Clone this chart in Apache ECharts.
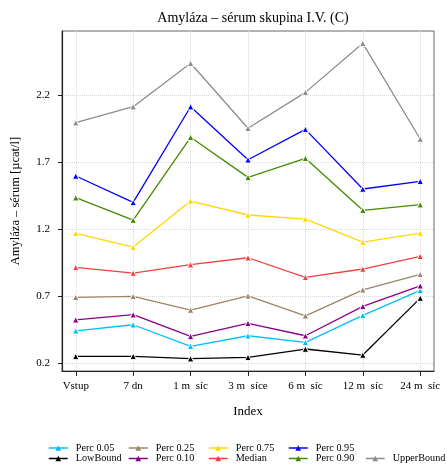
<!DOCTYPE html>
<html>
<head>
<meta charset="utf-8">
<script src="https://cdn.jsdelivr.net/npm/echarts@6/dist/echarts.min.js"></script>
<style>html,body{margin:0;padding:0;background:#fff}#c{width:447px;height:472px}</style>
</head>
<body>
<div id="c"></div>
<script>
const categories = ['Vstup', '7 dn', '1 m  síc', '3 m  síce', '6 m  síc', '12 m  síc', '24 m  síc'];
const yTicks = [0.2, 0.7, 1.2, 1.7, 2.2];

const perc05     = [0.443, 0.488, 0.327, 0.406, 0.357, 0.558, 0.745];
const lowBound   = [0.252, 0.252, 0.235, 0.245, 0.307, 0.262, 0.687];
const perc25     = [0.693, 0.700, 0.598, 0.704, 0.555, 0.749, 0.864];
const perc10     = [0.525, 0.563, 0.401, 0.499, 0.406, 0.625, 0.779];
const perc75     = [1.170, 1.068, 1.411, 1.307, 1.277, 1.105, 1.172];
const median     = [0.916, 0.874, 0.936, 0.988, 0.842, 0.904, 0.999];
const perc95     = [1.598, 1.401, 2.115, 1.719, 1.946, 1.501, 1.558];
const perc90     = [1.436, 1.269, 1.887, 1.588, 1.730, 1.342, 1.384];
const upperBound = [1.996, 2.115, 2.439, 1.954, 2.222, 2.588, 1.874];

const seriesDefs = [
  {name: 'Perc 0.05', data: perc05, color: '#00BFFF'},
  {name: 'LowBound', data: lowBound, color: '#000000'},
  {name: 'Perc 0.25', data: perc25, color: '#9C8466'},
  {name: 'Perc 0.10', data: perc10, color: '#8B008B'},
  {name: 'Perc 0.75', data: perc75, color: '#FFD700'},
  {name: 'Median', data: median, color: '#F04040'},
  {name: 'Perc 0.95', data: perc95, color: '#0000FF'},
  {name: 'Perc 0.90', data: perc90, color: '#458B00'},
  {name: 'UpperBound', data: upperBound, color: '#8C8C8C'}
];

const FONT = 'Liberation Serif';
const legendPos = [
  ['Perc 0.05', 48, 0], ['Perc 0.25', 128, 0], ['Perc 0.75', 208, 0], ['Perc 0.95', 288, 0],
  ['LowBound', 48, 1], ['Perc 0.10', 128, 1], ['Median', 208, 1], ['Perc 0.90', 288, 1], ['UpperBound', 365, 1]
];

const chart = echarts.init(document.getElementById('c'), null, {renderer: 'canvas'});
chart.setOption({
  animation: false,
  backgroundColor: '#fff',
  title: {
    text: 'Amyláza – sérum skupina I.V. (C)',
    left: 248, top: 6, textAlign: 'center',
    textStyle: {fontFamily: FONT, fontSize: 14, fontWeight: 'normal', color: '#000'}
  },
  legend: legendPos.map(([name, x, row]) => ({
    data: [name], left: x, top: row === 0 ? 443 : 453.5, padding: 0,
    itemWidth: 19, itemHeight: 7, itemGap: 0,
    itemStyle: {borderWidth: 0},
    lineStyle: {type: 'solid', width: 1.5},
    textStyle: {fontFamily: FONT, fontSize: 10.2, color: '#000', padding: [0, 0, 0, 3]}
  })),
  grid: {left: 62, top: 31, width: 372, height: 340, show: true, borderColor: '#666', borderWidth: 1, containLabel: false},
  xAxis: {
    type: 'value', min: -0.24, max: 6.24,
    name: 'Index', nameLocation: 'middle', nameGap: 34,
    nameTextStyle: {fontFamily: FONT, fontSize: 13, color: '#000'},
    axisLine: {show: true, onZero: false, lineStyle: {color: '#222', width: 1.2}},
    axisTick: {show: true, length: 5, customValues: [0,1,2,3,4,5,6], lineStyle: {color: '#222'}},
    axisLabel: {customValues: [0,1,2,3,4,5,6], margin: 10, fontFamily: FONT, fontSize: 11, color: '#000',
      formatter: v => categories[Math.round(v)]},
    splitLine: {show: true, lineStyle: {color: '#d8d8d8', type: 'dotted'}}
  },
  yAxis: {
    type: 'value', min: 0.143, max: 2.68,
    name: 'Amyláza – sérum [µcat/l]', nameLocation: 'middle', nameGap: 40,
    nameTextStyle: {fontFamily: FONT, fontSize: 12.5, color: '#000'},
    axisLine: {show: true, onZero: false, lineStyle: {color: '#222', width: 1.2}},
    axisTick: {show: true, length: 4, customValues: yTicks, lineStyle: {color: '#222'}},
    axisLabel: {customValues: yTicks, margin: 12, fontFamily: FONT, fontSize: 11, color: '#000',
      formatter: v => v.toFixed(1)},
    splitLine: {show: true, lineStyle: {color: '#d8d8d8', type: 'dotted'}}
  },
  series: seriesDefs.map(s => ({
    name: s.name, type: 'line',
    data: s.data.map((v, i) => [i, v]),
    symbol: 'triangle', symbolSize: 6.5, showSymbol: true,
    lineStyle: {color: s.color, width: 1.3},
    itemStyle: {color: s.color, borderColor: '#fff', borderWidth: 1},
    emphasis: {disabled: true}
  }))
});
</script>
</body>
</html>
